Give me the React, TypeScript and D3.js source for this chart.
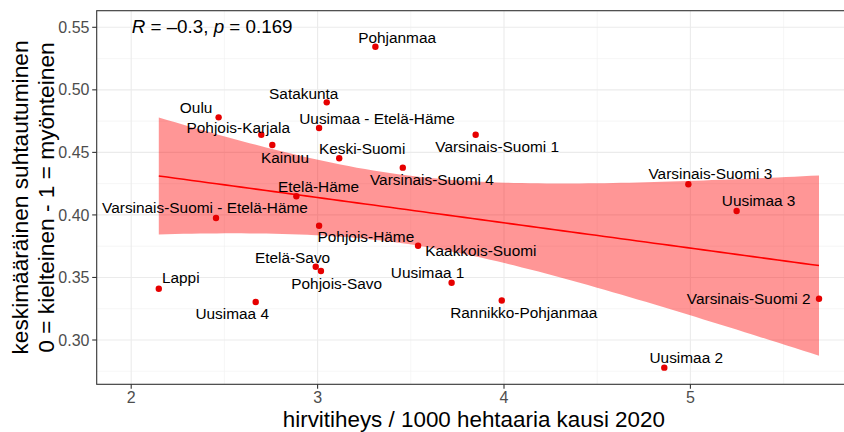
import React from "react";
import * as d3 from "d3";

const regions = [
  "Pohjanmaa", "Satakunta", "Oulu", "Pohjois-Karjala", "Uusimaa - Etelä-Häme", "Kainuu",
  "Keski-Suomi", "Varsinais-Suomi 4", "Etelä-Häme", "Varsinais-Suomi 1", "Varsinais-Suomi 3",
  "Uusimaa 3", "Varsinais-Suomi - Etelä-Häme", "Pohjois-Häme", "Kaakkois-Suomi", "Etelä-Savo",
  "Pohjois-Savo", "Lappi", "Uusimaa 4", "Uusimaa 1", "Rannikko-Pohjanmaa", "Varsinais-Suomi 2",
  "Uusimaa 2",
];
const density = [
  3.31, 3.049, 2.469, 2.698, 3.008, 2.757,
  3.116, 3.457, 2.886, 3.848, 4.989,
  5.248, 2.455, 3.008, 3.539, 2.990,
  3.018, 2.148, 2.668, 3.719, 3.988, 5.690,
  4.860,
];
const attitude = [
  0.5345, 0.490, 0.478, 0.4641, 0.4695, 0.4559,
  0.4453, 0.4378, 0.4149, 0.4641, 0.4245,
  0.4031, 0.3975, 0.3914, 0.3754, 0.3586,
  0.3552, 0.3410, 0.3304, 0.3458, 0.3316, 0.3330,
  0.2779,
];
const xTicks = [2, 3, 4, 5];
const yTicks = [0.3, 0.35, 0.4, 0.45, 0.5, 0.55];
const xMinor = [2.5, 3.5, 4.5, 5.5];
const yMinor = [0.275, 0.325, 0.375, 0.425, 0.475, 0.525];
const xTitle = "hirvitiheys / 1000 hehtaaria kausi 2020";
const yTitle1 = "keskimääräinen suhtautuminen";
const yTitle2 = "0 = kielteinen - 1 = myönteinen";
const statR = "–0.3";
const statP = "0.169";

// label placement (pixel offsets from the point: text centre x, baseline y)
const labelOffsets: Record<string, [number, number]> = {
  "Pohjanmaa": [21.7, -4],
  "Satakunta": [-23, -3.7],
  "Oulu": [-22.5, -4],
  "Pohjois-Karjala": [-23, -2],
  "Uusimaa - Etelä-Häme": [58, -4],
  "Kainuu": [12.7, 17.7],
  "Keski-Suomi": [22.9, -4],
  "Varsinais-Suomi 4": [29.1, 17.3],
  "Etelä-Häme": [22.2, -4.6],
  "Varsinais-Suomi - Etelä-Häme": [-11, -4.7],
  "Varsinais-Suomi 1": [21.5, 17],
  "Varsinais-Suomi 3": [22, -5],
  "Uusimaa 3": [22, -5],
  "Pohjois-Häme": [46.8, 16.3],
  "Etelä-Savo": [-23.2, -4],
  "Pohjois-Savo": [15.7, 17.7],
  "Lappi": [22, -5.4],
  "Uusimaa 4": [-23.5, 17.3],
  "Kaakkois-Suomi": [62.8, 10.3],
  "Uusimaa 1": [-24, -5],
  "Rannikko-Pohjanmaa": [22, 17.4],
  "Varsinais-Suomi 2": [-70.3, 5.6],
  "Uusimaa 2": [22, -5],
};

const W = 844, H = 432;
const P = { left: 96.7, right: 851, top: 10.7, bottom: 384.3 };
const FONT = "'Liberation Sans', Arial, sans-serif";

export default function App() {
  const x = d3.scaleLinear().domain([2, 5]).range([131.2, 690.4]);
  const y = d3.scaleLinear().domain([0.3, 0.55]).range([340, 27.3]);

  // linear model + 95% CI
  const n = density.length;
  const xbar = d3.mean(density)!;
  const ybar = d3.mean(attitude)!;
  let sxx = 0, sxy = 0;
  density.forEach((xi, i) => { sxx += (xi - xbar) ** 2; sxy += (xi - xbar) * (attitude[i] - ybar); });
  const b = sxy / sxx;
  const a = ybar - b * xbar;
  let sse = 0;
  density.forEach((xi, i) => { sse += (attitude[i] - (a + b * xi)) ** 2; });
  const s = Math.sqrt(sse / (n - 2));
  const tCrit = 2.0796;
  const [xmin, xmax] = d3.extent(density) as [number, number];
  const grid = d3.range(0, 81).map((k) => xmin + ((xmax - xmin) * k) / 80);
  const fit = grid.map((xv) => {
    const yh = a + b * xv;
    const se = s * Math.sqrt(1 / n + (xv - xbar) ** 2 / sxx);
    return { x: xv, y: yh, lo: yh - tCrit * se, hi: yh + tCrit * se };
  });
  const area = d3.area<any>().x((d) => x(d.x)).y0((d) => y(d.lo)).y1((d) => y(d.hi));
  const line = d3.line<any>().x((d) => x(d.x)).y((d) => y(d.y));

  const midY = (P.top + P.bottom) / 2;
  const midX = (P.left + P.right) / 2;

  return (
    <svg width={W} height={H} style={{ position: "absolute", left: 0, top: 0, background: "#fff" }} fontFamily={FONT}>
      <rect x={0} y={0} width={W} height={H} fill="#fff" />
      <defs>
        <clipPath id="panel"><rect x={P.left} y={P.top} width={P.right - P.left} height={P.bottom - P.top} /></clipPath>
      </defs>
      <g clipPath="url(#panel)">
        {xMinor.map((v) => <line key={"xm" + v} x1={x(v)} x2={x(v)} y1={P.top} y2={P.bottom} stroke="#F0F0F0" strokeWidth={0.6} />)}
        {yMinor.map((v) => <line key={"ym" + v} x1={P.left} x2={P.right} y1={y(v)} y2={y(v)} stroke="#F0F0F0" strokeWidth={0.6} />)}
        {xTicks.map((v) => <line key={"xg" + v} x1={x(v)} x2={x(v)} y1={P.top} y2={P.bottom} stroke="#EBEBEB" strokeWidth={1.1} />)}
        {yTicks.map((v) => <line key={"yg" + v} x1={P.left} x2={P.right} y1={y(v)} y2={y(v)} stroke="#EBEBEB" strokeWidth={1.1} />)}
        <path d={area(fit)!} fill="#FF0000" fillOpacity={0.41} />
        <path d={line(fit)!} fill="none" stroke="#FF0000" strokeWidth={1.6} />
        {density.map((xv, i) => (
          <circle key={"p" + i} cx={x(xv)} cy={y(attitude[i])} r={3.2} fill="#E60000" />
        ))}
        {regions.map((name, i) => {
          const [dx, dy] = labelOffsets[name];
          return (
            <text key={"l" + i} x={x(density[i]) + dx} y={y(attitude[i]) + dy} textAnchor="middle" fontSize={15.4} fill="#000">
              {name}
            </text>
          );
        })}
        <text x={131.7} y={32.5} fontSize={18.8} fill="#000">
          <tspan fontStyle="italic">R</tspan>
          <tspan> = {statR}, </tspan>
          <tspan fontStyle="italic">p</tspan>
          <tspan> = {statP}</tspan>
        </text>
      </g>
      <rect x={P.left} y={P.top} width={P.right - P.left} height={P.bottom - P.top} fill="none" stroke="#333" strokeWidth={1.1} />
      {xTicks.map((v) => (
        <g key={"xt" + v}>
          <line x1={x(v)} x2={x(v)} y1={P.bottom} y2={P.bottom + 4.5} stroke="#333" strokeWidth={1.1} />
          <text x={x(v)} y={402.5} textAnchor="middle" fontSize={16} fill="#4D4D4D">{v}</text>
        </g>
      ))}
      {yTicks.map((v) => (
        <g key={"yt" + v}>
          <line x1={P.left - 4.5} x2={P.left} y1={y(v)} y2={y(v)} stroke="#333" strokeWidth={1.1} />
          <text x={89.5} y={y(v) + 5.6} textAnchor="end" fontSize={16} fill="#4D4D4D">{d3.format(".2f")(v)}</text>
        </g>
      ))}
      <text x={midX} y={427} textAnchor="middle" fontSize={22.4} fill="#000">{xTitle}</text>
      <text transform={`translate(27.5,${midY}) rotate(-90)`} textAnchor="middle" fontSize={22.7} fill="#000">{yTitle1}</text>
      <text transform={`translate(53.5,${midY}) rotate(-90)`} textAnchor="middle" fontSize={22.7} fill="#000">{yTitle2}</text>
    </svg>
  );
}
